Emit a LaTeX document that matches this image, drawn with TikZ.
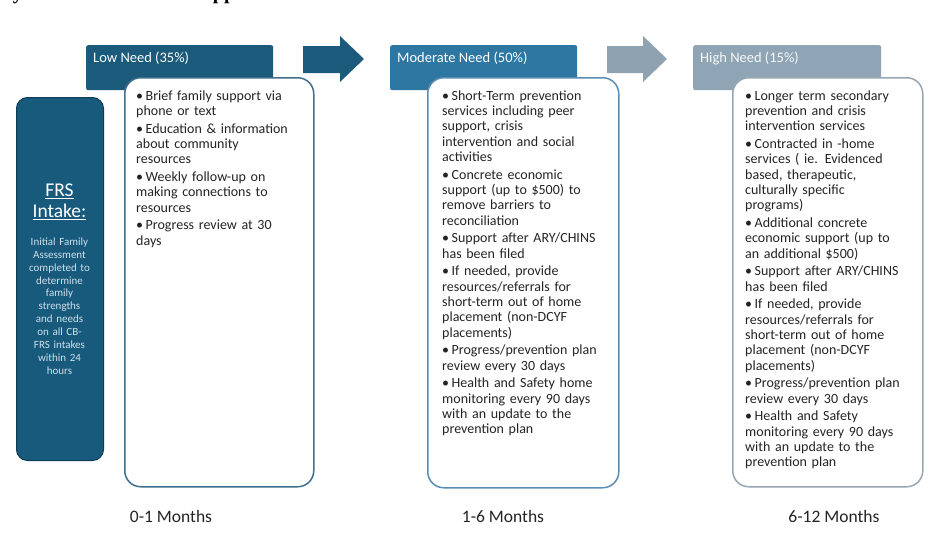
\documentclass[tikz,border=0pt]{standalone}
\usepackage{fontspec}
\setmainfont{Carlito}
\newfontfamily\titlefont{Liberation Serif}
\definecolor{lowc}{HTML}{1B5A7B}
\definecolor{modc}{HTML}{2E77A3}
\definecolor{highc}{HTML}{8FA4B5}
\definecolor{arrowtwo}{HTML}{8FA2B2}
\definecolor{intakec}{HTML}{175A7C}
\definecolor{intakeb}{HTML}{0E3D55}
\definecolor{lowb}{HTML}{3F6F8D}
\definecolor{modb}{HTML}{5A8DB4}
\definecolor{highb}{HTML}{98A6B2}
\definecolor{bodyc}{HTML}{242424}
\definecolor{smallc}{HTML}{CFE0EA}
\newcommand{\bul}[1]{\hangindent=9.5pt\hangafter=1\noindent\makebox[9.5pt][l]{\textbullet}#1\par}
\tikzset{
  hdr/.style={rectangle, rounded corners=2pt, inner sep=0pt, anchor=north west},
  hdrtext/.style={anchor=west, inner sep=0pt, font=\fontsize{14.5}{16}\selectfont},
  colbox/.style={rectangle, rounded corners=16pt, fill=white, line width=1.5pt, inner sep=0pt, anchor=north west},
  bodytext/.style={anchor=base west, inner sep=0pt, text width=178pt, align=left, text=bodyc,
     font=\fontsize{14}{15.35}\selectfont\setlength{\parskip}{2.3pt}},
  monthlabel/.style={inner sep=0pt, text=bodyc, font=\fontsize{17.5}{19}\selectfont}
}
\begin{document}
\begin{tikzpicture}[x=1pt,y=-1pt]
\useasboundingbox (0,0) rectangle (940,536);
\fill[white] (0,0) rectangle (940,536);
% cropped title
\begin{scope}
\clip (0,0) rectangle (940,536);
\node[anchor=base east, inner sep=0pt, font=\titlefont\bfseries\fontsize{20}{24}\selectfont] (title) at (405,-1) {Family Resource Services Stepped Care Continuum};
\end{scope}
% intake
\node[rectangle, rounded corners=11pt, fill=intakec, draw=intakeb, line width=1pt, minimum width=87pt, minimum height=363pt, anchor=north west, inner sep=0pt] (intake) at (16,97) {};
\node[text=white, inner sep=0pt, font=\fontsize{19.5}{21}\selectfont] (frs) at (59.5,191) {\underline{FRS}};
\node[text=white, inner sep=0pt, font=\fontsize{19.5}{21}\selectfont] (intk) at (59.5,212) {\underline{Intake:}};
\node[anchor=base, inner sep=0pt, text width=84pt, align=center, text=smallc, font=\fontsize{11}{12.85}\selectfont] (intaketext) at (59.5,245.5)
 {Initial Family\\ Assessment\\ completed to\\ determine\\ family\\ strengths\\ and needs\\ on all CB-\\ FRS intakes\\ within 24\\ hours};
% headers
\node[hdr, fill=lowc, minimum width=187pt, minimum height=45pt] (lowh) at (86,45) {};
\node[hdr, fill=modc, minimum width=187pt, minimum height=45pt] (modh) at (390,45) {};
\node[hdr, fill=highc, minimum width=188pt, minimum height=45pt] (highh) at (693,45) {};
\node[hdrtext, text=white] (lowht) at (93,58) {Low Need (35\%)};
\node[hdrtext, text=white] (modht) at (397,58) {Moderate Need (50\%)};
\node[hdrtext, text=white!93!highc] (highht) at (700,58) {High Need (15\%)};
% arrows
\fill[lowc] (303,46) -- (340,46) -- (340,36) -- (364,59) -- (340,82) -- (340,73) -- (303,73) -- cycle;
\fill[arrowtwo] (607,46) -- (643,46) -- (643,36) -- (667,59) -- (643,82) -- (643,73) -- (607,73) -- cycle;
% boxes
\node[colbox, draw=lowb, minimum width=189pt, minimum height=409pt] (lowbox) at (124,77) {};
\node[colbox, draw=modb, minimum width=191pt, minimum height=410pt] (modbox) at (427,77) {};
\node[colbox, draw=highb, minimum width=190pt, minimum height=409pt] (highbox) at (732,77) {};
% texts
\node[bodytext] (lowtext) at (136,100) {%
\bul{Brief family support via\\ phone or text}%
\bul{Education \& information\\ about community\\ resources}%
\bul{Weekly follow-up on\\ making connections to\\ resources}%
\bul{Progress review at 30\\ days}};
\node[bodytext] (modtext) at (442,100) {%
\bul{Short-Term prevention\\ services including peer\\ support, crisis\\ intervention and social\\ activities}%
\bul{Concrete economic\\ support (up to \$500) to\\ remove barriers to\\ reconciliation}%
\bul{Support after ARY/CHINS\\ has been filed}%
\bul{If needed, provide\\ resources/referrals for\\ short-term out of home\\ placement (non-DCYF\\ placements)}%
\bul{Progress/prevention plan\\ review every 30 days}%
\bul{Health and Safety home\\ monitoring every 90 days\\ with an update to the\\ prevention plan}};
\node[bodytext] (hightext) at (745,100) {%
\bul{Longer term secondary\\ prevention and crisis\\ intervention services}%
\bul{Contracted in -home\\ services ( ie. Evidenced\\ based, therapeutic,\\ culturally specific\\ programs)}%
\bul{Additional concrete\\ economic support (up to\\ an additional \$500)}%
\bul{Support after ARY/CHINS\\ has been filed}%
\bul{If needed, provide\\ resources/referrals for\\ short-term out of home\\ placement (non-DCYF\\ placements)}%
\bul{Progress/prevention plan\\ review every 30 days}%
\bul{Health and Safety\\ monitoring every 90 days\\ with an update to the\\ prevention plan}};
% month labels
\node[monthlabel] (m1) at (171,516) {0-1 Months};
\node[monthlabel] (m2) at (503,516) {1-6 Months};
\node[monthlabel] (m3) at (834,516) {6-12 Months};
\end{tikzpicture}
\end{document}
